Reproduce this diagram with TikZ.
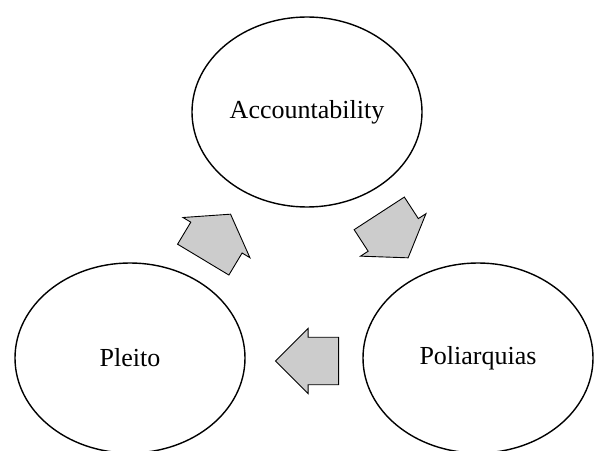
\documentclass[tikz,border=0pt]{standalone}
\usepackage{fontspec}
\setmainfont{Liberation Serif}
\usetikzlibrary{shapes.geometric,shapes.arrows}
\newcommand{\ellw}{230pt}
\newcommand{\ellh}{190pt}
\tikzset{
    elsty/.style={draw,ellipse,line width=1.4pt,minimum width=\ellw,minimum height=\ellh,inner sep=0pt,font=\fontsize{26}{31}\selectfont},
    arrsty/.style={draw,fill=gray!40,line width=0.9pt,single arrow,single arrow head indent=0pt,inner sep=0pt,anchor=tail},
    diagsty/.style={arrsty,inner ysep=23pt,minimum width=78pt,minimum height=53pt,single arrow tip angle=110},
    leftsty/.style={arrsty,inner ysep=19pt,minimum width=65pt,minimum height=63pt,single arrow tip angle=90},
}

\begin{document}
\begin{tikzpicture}[x=1pt,y=1pt]
  \useasboundingbox (0,0) rectangle (594,450);

  \node[elsty] (acc) at (307,338) {Accountability};
  \node[elsty] (pleito) at (130,92) {Pleito};
  \node[elsty] (poli) at (478,92) {Poliarquias};

  \node[diagsty,rotate=59] (up) at (203,190) {};
  \node[diagsty,rotate=-57] (down) at (379,237) {};
  \node[leftsty,rotate=180] (back) at (339,89) {};
\end{tikzpicture}
\end{document}
